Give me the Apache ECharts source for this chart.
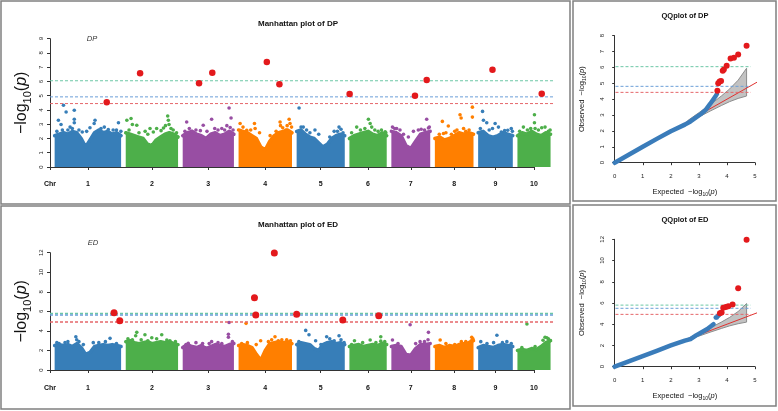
<!DOCTYPE html>
<html><head><meta charset="utf-8">
<script src="https://cdn.jsdelivr.net/npm/echarts@6/dist/echarts.min.js"></script>
<style>html,body{margin:0;padding:0;background:#fff}#c{width:778px;height:411px}</style>
</head><body><div id="c"></div>
<script>
// ---------------- DATA ----------------
const chrTickLabels = ['Chr','1','2','3','4','5','6','7','8','9','10'];
const chrLengths = [301,237,232,242,218,169,176,175,157,150]; // Mb
const chrColors = ['#377EB8','#4DAF4A','#984EA3','#FF7F00'];

// dense-cloud upper envelopes (evenly spaced along each chromosome)
const dpEnvelope = [
 [2.2,2.3,2.4,2.3,2.5,2.4,2.0,1.4,1.9,2.4,2.6,2.4,2.5,2.3,2.4,2.2],
 [2.4,2.3,2.2,2.1,2.0,1.6,1.5,1.9,2.1,2.3,2.4,2.3,2.1],
 [2.2,2.4,2.5,2.3,2.2,2.0,2.3,2.4,2.2,2.3,2.5,2.3],
 [2.6,2.5,2.4,2.2,2.0,1.4,1.2,1.8,2.2,2.4,2.5,2.6,2.4],
 [2.5,2.6,2.3,2.1,2.0,1.7,1.4,1.6,2.0,2.2,2.3,2.2],
 [2.0,2.2,2.3,2.4,2.5,2.3,2.2,2.4,2.2],
 [2.5,2.4,2.2,1.5,1.3,1.8,2.3,2.4,2.5],
 [2.0,2.1,1.9,2.0,2.2,2.4,2.3,2.4,2.3],
 [2.4,2.5,2.2,2.1,2.2,2.4,2.3,2.2],
 [2.2,2.4,2.3,2.5,2.3,2.2,2.4,2.3]
];
// [chromosome, position (Mb), -log10(p)]
const dpPoints = [
 [1,17,3.28],[1,29,2.98],[1,40,4.33],[1,52,3.86],[1,70,2.8],[1,89,3.98],[1,89,3.35],[1,89,3.1],[1,145,2.5],[1,179,3.05],[1,183,3.28],[1,243,2.63],[1,289,3.1],[1,60,2.6],[1,110,2.6],[1,210,2.7],[1,265,2.6],
 [1,10,2.5],[1,35,2.6],[1,80,2.7],[1,125,2.45],[1,160,2.75],[1,200,2.55],[1,225,2.8],[1,280,2.6],[1,300,2.5],
 [2,5,3.28],[2,24,3.4],[2,30,2.98],[2,50,2.93],[2,88,2.5],[2,110,2.7],[2,140,2.7],[2,171,2.74],[2,190,3.58],[2,193,3.28],[2,196,2.98],[2,205,2.7],
 [2,15,2.6],[2,60,2.4],[2,100,2.3],[2,125,2.45],[2,160,2.55],[2,180,2.9],[2,215,2.6],[2,230,2.4],
 [3,18,3.16],[3,41,2.5],[3,93,2.93],[3,131,3.35],[3,177,2.7],[3,210,4.14],[3,219,3.44],[3,215,2.77],[3,60,2.6],[3,160,2.6],
 [3,10,2.5],[3,30,2.7],[3,80,2.55],[3,110,2.5],[3,145,2.7],[3,190,2.6],[3,200,2.9],[3,228,2.6],
 [4,7,3.05],[4,37,2.58],[4,72,3.05],[4,75,2.7],[4,143,2.2],[4,188,3.16],[4,190,2.9],[4,229,3.35],[4,233,3.05],[4,240,2.8],[4,215,2.6],
 [4,20,2.8],[4,55,2.6],[4,95,2.4],[4,170,2.5],[4,200,2.75],[4,220,2.9],
 [5,11,4.14],[5,30,2.8],[5,83,2.6],[5,192,2.8],[5,201,2.65],[5,60,2.4],[5,170,2.5],
 [5,20,2.8],[5,45,2.6],[5,100,2.3],[5,150,2.1],[5,185,2.5],[5,210,2.4],
 [6,33,2.8],[6,86,3.35],[6,94,3.05],[6,101,2.8],[6,162,2.47],[6,130,2.5],
 [6,10,2.4],[6,50,2.6],[6,70,2.7],[6,115,2.6],[6,145,2.6],[6,165,2.4],
 [7,5,2.8],[7,24,2.7],[7,39,2.6],[7,77,2.1],[7,122,2.6],[7,160,3.35],[7,168,2.74],[7,150,2.6],
 [7,15,2.7],[7,55,2.3],[7,100,2.5],[7,135,2.65],[7,172,2.8],
 [8,34,3.2],[8,61,2.88],[8,39,2.35],[8,114,3.67],[8,119,3.44],[8,170,4.2],[8,170,3.5],[8,90,2.5],[8,140,2.5],
 [8,20,2.3],[8,50,2.4],[8,75,2.3],[8,100,2.6],[8,130,2.7],[8,155,2.6],
 [9,20,3.9],[9,24,3.28],[9,39,3.1],[9,65,2.7],[9,77,3.05],[9,92,2.8],[9,134,2.58],[9,150,2.7],
 [9,10,2.7],[9,50,2.6],[9,105,2.45],[9,120,2.55],[9,155,2.5],
 [10,27,2.8],[10,77,3.67],[10,77,3.1],[10,80,2.7],[10,125,2.8],[10,140,2.5],
 [10,10,2.5],[10,45,2.6],[10,60,2.7],[10,95,2.6],[10,110,2.75],[10,148,2.6]
];
const dpSignificant = [[1,236,4.54],[2,65,6.57],[3,74,5.87],[3,134,6.61],[4,128,7.36],[4,185,5.8],[6,1,5.12],[7,107,5.0],[7,160,6.1],[9,65,6.82],[10,110,5.14]];
const dpThresholds = [6.05, 4.92, 4.45]; // green, blue, red

const edEnvelope = [
 [2.5,2.6,2.5,2.6,2.4,2.7,2.3,1.6,1.8,2.4,2.5,2.6,2.5,2.6,2.5,2.4],
 [2.9,3.0,2.8,2.7,2.8,2.9,2.7,2.8,2.9,2.8,2.9,2.7,2.6],
 [2.3,2.6,2.4,2.3,2.5,2.2,2.4,2.6,2.5,2.4,2.6,2.7],
 [2.5,2.6,2.5,2.3,1.6,1.0,2.0,2.7,2.8,2.9,2.8,2.9,2.7],
 [2.6,2.8,2.7,2.6,2.2,2.0,2.6,2.8,2.9,2.7,2.8,2.6],
 [2.4,2.5,2.6,2.4,2.5,2.6,2.5,2.7,2.6],
 [2.4,2.5,2.4,1.6,1.5,2.2,2.6,2.6,2.7],
 [2.4,2.5,2.3,2.5,2.4,2.6,2.7,2.8,3.0],
 [2.3,2.5,2.4,2.3,2.5,2.6,2.5,2.4],
 [2.0,2.1,2.0,2.2,2.1,2.4,2.8,3.0]
];
const edPoints = [
 [1,96,3.4],[1,100,3.1],[1,251,3.24],[1,47,2.8],[1,175,2.8],[1,20,2.7],[1,130,2.6],
 [1,10,2.8],[1,60,2.9],[1,110,2.9],[1,200,2.8],[1,230,2.9],[1,280,2.7],
 [2,50,3.85],[2,45,3.5],[2,87,3.6],[2,118,3.3],[2,163,3.6],[2,186,3.07],[2,30,3.1],[2,140,3.2],
 [2,10,3.2],[2,70,3.1],[2,100,3.0],[2,200,3.0],[2,225,2.9],
 [3,25,2.73],[3,131,2.9],[3,207,3.65],[3,207,3.35],[3,177,2.7],[3,90,2.7],[3,210,4.86],
 [3,15,2.6],[3,60,2.8],[3,120,2.7],[3,160,2.8],[3,225,2.9],
 [4,14,2.7],[4,135,2.9],[4,165,3.4],[4,196,3.1],[4,218,3.1],[4,100,3.0],[4,34,4.77],
 [4,40,2.8],[4,80,2.6],[4,150,3.1],[4,180,3.0],[4,235,3.0],
 [5,41,4.05],[5,56,3.6],[5,86,3.0],[5,136,3.4],[5,192,3.5],[5,201,3.1],[5,150,3.2],
 [5,10,2.9],[5,110,2.6],[5,170,3.0],[5,215,2.8],
 [6,142,3.4],[6,142,2.95],[6,23,3.0],[6,94,3.07],
 [6,10,2.6],[6,60,2.8],[6,120,2.8],[6,160,2.9],
 [7,5,3.07],[7,168,3.85],[7,166,3.1],[7,110,2.7],[7,85,4.63],
 [7,30,2.7],[7,130,2.9],[7,150,2.9],
 [8,24,3.07],[8,167,3.35],[8,165,3.0],[8,120,2.9],
 [8,50,2.7],[8,90,2.6],[8,140,2.9],[8,172,3.2],
 [9,85,3.55],[9,12,2.9],[9,130,2.9],[9,110,2.8],
 [9,40,2.7],[9,70,2.8],[9,150,2.7],
 [10,133,3.3],[10,125,3.35],[10,116,3.05],[10,43,4.7],
 [10,20,2.3],[10,80,2.4],[10,140,3.2],[10,147,3.0]
];
const edSignificant = [[1,269,5.86],[1,295,5.04],[4,72,7.39],[4,78,5.62],[4,162,11.96],[5,0,5.7],[5,209,5.11],[6,133,5.55]];
const edThresholds = [5.78, 5.62, 4.91];

// QQ plots
const qqDpExpected = [0,0.5,1,1.5,2,2.5,2.7,2.9,3.1,3.25,3.4,3.5,3.58,3.64];
const qqDpObserved = [0,0.5,1,1.5,1.98,2.4,2.6,2.85,3.1,3.35,3.7,3.95,4.15,4.32];
const qqDpSigExpected = [3.66,3.69,3.74,3.79,3.85,3.89,3.99,4.13,4.25,4.4,4.7];
const qqDpSigObserved = [4.54,5.0,5.12,5.14,5.8,5.87,6.1,6.57,6.61,6.82,7.36];
const qqDpThresholds = [6.05, 4.81, 4.43];

const qqEdExpected = [0,0.5,1,1.5,2,2.5,2.7,2.9,3.1,3.3,3.45,3.52];
const qqEdObserved = [0,0.5,1,1.5,2.0,2.45,2.6,2.95,3.25,3.55,3.85,4.0];
const qqEdNearExpected = [3.6,3.64,3.68,3.72];
const qqEdNearObserved = [4.63,4.63,4.77,4.86];
const qqEdSigExpected = [3.75,3.81,3.87,3.96,4.05,4.2,4.4,4.7];
const qqEdSigObserved = [5.04,5.11,5.55,5.62,5.7,5.86,7.39,11.96];
const qqEdThresholds = [5.8, 5.5, 4.93];

const qqBandExpected = [2.6,3.0,3.4,3.8,4.1,4.4,4.7];
const qqBandUpper = [2.65,3.15,3.65,4.2,4.65,5.2,5.95];
const qqBandLower = [2.55,2.88,3.25,3.6,3.85,4.05,4.2];
const qqRefRange = [-0.1, 5.2];
const qqThresholdRange = [-0.15, 4.85];

// ---------------- LAYOUT / STYLE ----------------
const FONT = '"Liberation Sans", Arial, Helvetica, sans-serif';
const thrColors = ['#6cc7a6', '#6b9fd8', '#e5676a'];
const SIG_RED = '#e3191c';
const QQ_BLUE = '#3a7cba';
const GAP = 21;
const starts = []; { let acc = GAP; chrLengths.forEach(l => { starts.push(acc); acc += l + GAP; }); }
const centers = chrLengths.map((l, i) => starts[i] + l / 2);
const tickValues = [0].concat(centers);
const axisEnd = centers[centers.length - 1];
const W_AXIS = 484, W_DATA = 505;
const xMaxData = axisEnd * W_DATA / W_AXIS;

const chart = echarts.init(document.getElementById('c'), null, {renderer: 'canvas'});

function richName(big, sub) {
  return {
    fontFamily: FONT, color: '#111',
    rich: {
      a: {fontSize: big, fontFamily: FONT, color: '#111', lineHeight: big * 1.4},
      s: {fontSize: sub, fontFamily: FONT, color: '#111', verticalAlign: 'bottom', lineHeight: big * 1.4},
      i: {fontSize: big, fontFamily: FONT, color: '#111', fontStyle: 'italic', lineHeight: big * 1.4}
    }
  };
}
const LOGNAME = '{a|\u2212log}{s|10}{a|(}{i|p}{a|)}';
const axLine = {show: true, lineStyle: {color: '#333', width: 1}};
const axTick = {show: true, length: 3, lineStyle: {color: '#333', width: 1}};

function tickLabelFor(v) {
  const i = tickValues.findIndex(t => Math.abs(t - v) < 1e-6);
  return i >= 0 ? chrTickLabels[i] : '';
}

const grids = [
  {left: 50, top: 38.7, width: W_DATA, height: 128.3},   // 0 DP data
  {left: 50, top: 38.7, width: W_AXIS, height: 128.3},   // 1 DP x-axis
  {left: 50, top: 252.7, width: W_DATA, height: 117.3},  // 2 ED data
  {left: 50, top: 252.7, width: W_AXIS, height: 117.3},  // 3 ED x-axis
  {left: 614.7, top: 35.7, width: 140.3, height: 127},   // 4 QQ DP
  {left: 614.7, top: 239.3, width: 140.3, height: 127.4} // 5 QQ ED
];

function manhattanX(gridIndex, show, offset) {
  if (!show) return {type: 'value', gridIndex, min: 0, max: xMaxData, show: false};
  return {
    type: 'value', gridIndex, min: 0, max: axisEnd, offset,
    axisLine: axLine, splitLine: {show: false},
    axisTick: {show: true, length: 3, lineStyle: {color: '#333'}, customValues: tickValues},
    axisLabel: {customValues: tickValues, formatter: tickLabelFor, fontSize: 7, fontWeight: 'bold',
      fontFamily: FONT, color: '#111', margin: 8, hideOverlap: false}
  };
}
function manhattanY(gridIndex, max, interval, show) {
  if (!show) return {type: 'value', gridIndex, min: 0, max, show: false};
  return {
    type: 'value', gridIndex, min: 0, max, interval,
    axisLine: axLine, axisTick: axTick, splitLine: {show: false},
    axisLabel: {rotate: 90, fontSize: 6, fontFamily: FONT, color: '#222', margin: 6},
    name: LOGNAME, nameLocation: 'middle', nameRotate: 90, nameGap: 17, nameMoveOverlap: false,
    nameTextStyle: richName(16, 11)
  };
}
function qqX(gridIndex) {
  return {
    type: 'value', gridIndex, min: 0, max: 5, interval: 1, offset: 6.6,
    axisLine: axLine, axisTick: {show: true, length: 2.5, lineStyle: {color: '#333'}}, splitLine: {show: false},
    axisLabel: {fontSize: 6, fontFamily: FONT, color: '#222', margin: 4},
    name: '{a|Expected  \u2212log}{s|10}{a|(}{i|p}{a|)}', nameLocation: 'middle', nameGap: 17,
    nameTextStyle: richName(7.5, 5)
  };
}
function qqY(gridIndex, max, interval) {
  return {
    type: 'value', gridIndex, min: 0, max, interval, offset: 6.4,
    axisLine: axLine, axisTick: {show: true, length: 2.5, lineStyle: {color: '#333'}}, splitLine: {show: false},
    axisLabel: {rotate: 90, fontSize: 6, fontFamily: FONT, color: '#222', margin: 3},
    name: '{a|Observed  \u2212log}{s|10}{a|(}{i|p}{a|)}', nameLocation: 'middle', nameRotate: 90, nameGap: 21,
    nameTextStyle: richName(7.5, 5)
  };
}

const series = [];
function thresholdSeries(thr, xi, yi, range, width, z) {
  thr.forEach((v, i) => series.push({
    type: 'line', xAxisIndex: xi, yAxisIndex: yi, symbol: 'none', silent: true, clip: false, z,
    data: range.map(x => [x, v]),
    lineStyle: {color: thrColors[i], type: [3, 2], width}
  }));
}
function addManhattan(env, pts, sig, thr, xi, yi, ptSize, sigSize, thrWidth) {
  env.forEach((vals, c) => {
    const n = vals.length;
    series.push({
      type: 'line', xAxisIndex: xi, yAxisIndex: yi, symbol: 'none', silent: true, clip: false, z: 2,
      data: vals.map((v, i) => [starts[c] + i * chrLengths[c] / (n - 1), v]),
      lineStyle: {color: chrColors[c % 4], width: 3.5, cap: 'round', join: 'round'},
      areaStyle: {color: chrColors[c % 4], opacity: 1, origin: 'start'}
    });
  });
  series.push({
    type: 'scatter', xAxisIndex: xi, yAxisIndex: yi, symbolSize: ptSize, silent: true, clip: false, z: 3,
    data: pts.map(([c, p, v]) => [starts[c - 1] + p, v, c - 1]),
    itemStyle: {color: (p) => chrColors[p.data[2] % 4], opacity: 1}
  });
  thresholdSeries(thr, xi, yi, [0, xMaxData], thrWidth, 4);
  series.push({
    type: 'scatter', xAxisIndex: xi, yAxisIndex: yi, symbolSize: sigSize, silent: true, clip: false, z: 5,
    data: sig.map(([c, p, v]) => [starts[c - 1] + p, v]),
    itemStyle: {color: SIG_RED, opacity: 1}
  });
}
addManhattan(dpEnvelope, dpPoints, dpSignificant, dpThresholds, 0, 0, 3.6, 6.5, 1);
addManhattan(edEnvelope, edPoints, edSignificant, edThresholds, 2, 2, 3.6, 7, 1.4);

function addQQ(idx, exp, obs, sigE, sigO, thr, nearE, nearO) {
  series.push({
    type: 'custom', xAxisIndex: idx, yAxisIndex: idx, data: [[0, 0]], silent: true, clip: false, z: 1,
    renderItem: (params, api) => {
      const up = qqBandExpected.map((e, i) => api.coord([e, qqBandUpper[i]]));
      const lo = qqBandExpected.map((e, i) => api.coord([e, qqBandLower[i]])).reverse();
      return {type: 'polygon', shape: {points: up.concat(lo)},
        style: {fill: '#c2c2c2', stroke: '#8d8d8d', lineWidth: 1}};
    }
  });
  series.push({
    type: 'line', xAxisIndex: idx, yAxisIndex: idx, symbol: 'none', silent: true, clip: false, z: 2,
    data: qqRefRange.map(v => [v, v]), lineStyle: {color: '#e0312f', width: 1}
  });
  thresholdSeries(thr, idx, idx, qqThresholdRange, 1, 3);
  series.push({
    type: 'line', xAxisIndex: idx, yAxisIndex: idx, symbol: 'none', silent: true, clip: false, z: 4,
    data: exp.map((e, i) => [e, obs[i]]),
    lineStyle: {color: QQ_BLUE, width: 4.5, cap: 'round', join: 'round'}
  });
  if (nearE) series.push({
    type: 'scatter', xAxisIndex: idx, yAxisIndex: idx, symbolSize: 4.5, silent: true, z: 4,
    data: nearE.map((e, i) => [e, nearO[i]]), itemStyle: {color: QQ_BLUE, opacity: 1}
  });
  series.push({
    type: 'scatter', xAxisIndex: idx, yAxisIndex: idx, symbolSize: 6, silent: true, clip: false, z: 5,
    data: sigE.map((e, i) => [e, sigO[i]]), itemStyle: {color: SIG_RED, opacity: 1}
  });
}
addQQ(4, qqDpExpected, qqDpObserved, qqDpSigExpected, qqDpSigObserved, qqDpThresholds);
addQQ(5, qqEdExpected, qqEdObserved, qqEdSigExpected, qqEdSigObserved, qqEdThresholds, qqEdNearExpected, qqEdNearObserved);

function txt(x, y, text, size, weight, style, color) {
  return {type: 'text', x, y, silent: true, z: 10,
    style: {text, fontSize: size, fontWeight: weight || 'normal', fontStyle: style || 'normal',
      fontFamily: FONT, fill: color || '#111', align: 'center', verticalAlign: 'middle'}};
}
function box(x, y, w, h) {
  return {type: 'rect', shape: {x, y, width: w, height: h}, silent: true, z: 0,
    style: {fill: 'none', stroke: '#808080', lineWidth: 1.5}};
}

chart.setOption({
  animation: false,
  backgroundColor: '#fff',
  grid: grids,
  xAxis: [manhattanX(0, false), manhattanX(1, true, 6), manhattanX(2, false), manhattanX(3, true, 7), qqX(4), qqX(5)],
  yAxis: [manhattanY(0, 9, 1, true), manhattanY(1, 9, 1, false), manhattanY(2, 12, 2, true), manhattanY(3, 12, 2, false),
          qqY(4, 8, 1), qqY(5, 12, 2)],
  series,
  graphic: [
    box(1, 1, 569, 203), box(1, 206, 569, 203), box(573, 1, 203, 200), box(573, 205, 203, 201),
    txt(298, 24, 'Manhattan plot of DP', 8, 'bold'),
    txt(298, 225, 'Manhattan plot of ED', 8, 'bold'),
    txt(92, 39, 'DP', 7.5, 'normal', 'italic', '#333'),
    txt(93, 243, 'ED', 7.5, 'normal', 'italic', '#333'),
    txt(685, 16, 'QQplot of DP', 7.5, 'bold'),
    txt(685, 220, 'QQplot of ED', 7.5, 'bold')
  ]
});
</script></body></html>
